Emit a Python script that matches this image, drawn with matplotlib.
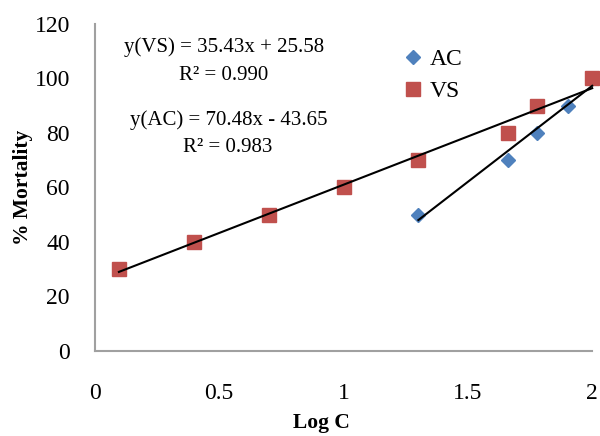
import matplotlib.pyplot as plt

plt.rcParams['font.family'] = ['Liberation Serif', 'DejaVu Serif']

# data
vs_x = [0.097, 0.398, 0.699, 1.0, 1.301, 1.663, 1.778, 2.0]
vs_y = [30, 40, 50, 60, 70, 80, 90, 100]
ac_x = [1.301, 1.663, 1.778, 1.903, 2.0]
ac_y = [50, 70, 80, 90, 100]

vs_fit = (35.43, 25.58)
ac_fit = (70.48, -43.65)

fig = plt.figure(figsize=(6, 4.36), dpi=100)
ax = fig.add_axes([0.158, 0.195, 0.829, 0.75])

ax.plot(ac_x, ac_y, 'D', color='#4F81BD', markersize=7.5, label='AC', zorder=3, clip_on=False)
ax.plot(vs_x, vs_y, 's', color='#C0504D', markersize=10.5, label='VS', zorder=3.5, clip_on=False)

def trend(xs, fit):
    x0, x1 = min(xs), max(xs)
    ax.plot([x0, x1], [fit[0] * x0 + fit[1], fit[0] * x1 + fit[1]],
            color='black', linewidth=1.5, zorder=4, clip_on=False)

trend(vs_x, vs_fit)
trend(ac_x, ac_fit)

ax.text(0.52, 111.6, 'y(VS) = 35.43x + 25.58', ha='center', va='center', fontsize=15)
ax.text(0.52, 101.2, 'R² = 0.990', ha='center', va='center', fontsize=15)
ax.text(0.54, 84.8, 'y(AC) = 70.48x - 43.65', ha='center', va='center', fontsize=15)
ax.text(0.535, 74.5, 'R² = 0.983', ha='center', va='center', fontsize=15)

ax.set_xlim(0, 2)
ax.set_ylim(0, 120)
ax.set_xticks([0, 0.5, 1, 1.5, 2])
ax.set_xticklabels(['0', '0.5', '1', '1.5', '2'])
ax.set_yticks(range(0, 121, 20))
ax.tick_params(axis='x', length=0, pad=23, labelsize=17)
ax.tick_params(axis='y', length=0, pad=18, labelsize=17)

for s in ['top', 'right']:
    ax.spines[s].set_visible(False)
for s in ['left', 'bottom']:
    ax.spines[s].set_color('#A0A0A0')
    ax.spines[s].set_linewidth(1.5)

ax.set_xlabel('Log C', fontsize=15.5, fontweight='bold', va='center')
ax.xaxis.set_label_coords(0.455, -0.221)
ax.set_ylabel('% Mortality', fontsize=15.5, fontweight='bold', va='center')
ax.yaxis.set_label_coords(-0.145, 0.5)

ax.legend(loc='upper left', bbox_to_anchor=(0.568, 0.99), frameon=False,
          fontsize=17, handletextpad=0.1, labelspacing=0.45, handlelength=1.2)

fig.savefig('out.png', dpi=100)
